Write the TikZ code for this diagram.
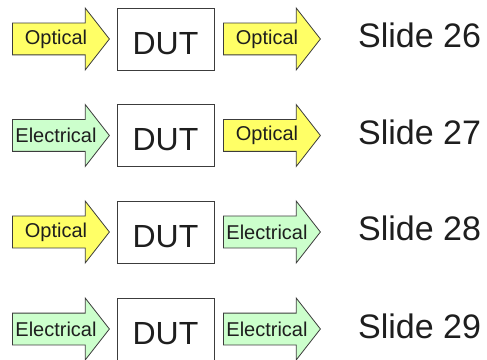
\documentclass[tikz,border=0pt]{standalone}
\usepackage{fontspec}
\setmainfont{Liberation Sans}
\usetikzlibrary{shapes.arrows}

\definecolor{optyellow}{RGB}{255,255,102}
\definecolor{elegreen}{RGB}{204,255,204}
\definecolor{edge}{RGB}{60,60,60}
\definecolor{ink}{RGB}{30,30,30}

\tikzset{
  sigarrow/.style={single arrow, draw=edge, line width=0.8pt, anchor=tail,
    minimum height=97pt, inner sep=0pt, text height=31pt, text depth=0pt,
    single arrow head extend=15pt, single arrow tip angle=104},
  optical/.style={sigarrow, fill=optyellow},
  electrical/.style={sigarrow, fill=elegreen},
  siglabel/.style={inner sep=0pt, text=ink, font=\fontsize{20}{24}\selectfont},
  dutbox/.style={draw=edge, line width=0.8pt, minimum width=97pt, minimum height=62pt,
    inner sep=0pt, text height=31pt, text depth=0pt, text=ink,
    font=\fontsize{32}{38}\selectfont},
  slidelabel/.style={anchor=base west, inner sep=0pt, text=ink,
    font=\fontsize{34}{40}\selectfont}
}

\begin{document}
\begin{tikzpicture}[x=1pt, y=1pt]
    \useasboundingbox (0,0) rectangle (487,359);

    % Slide 26: optical in, optical out
    \node[optical] (in1) at (12,320) {};
    \node[siglabel] (inlab1) at (56,320) {Optical};
    \node[dutbox] (dut1) at (165.5,320) {DUT};
    \node[optical] (out1) at (223,320) {};
    \node[siglabel] (outlab1) at (267,320) {Optical};
    \node[slidelabel] (slide1) at (358,311) {Slide 26};

    % Slide 27: electrical in, optical out
    \node[electrical] (in2) at (12,223.5) {};
    \node[siglabel] (inlab2) at (56,223.5) {Electrical};
    \node[dutbox] (dut2) at (165.5,223.5) {DUT};
    \node[optical] (out2) at (223,223.5) {};
    \node[siglabel] (outlab2) at (267,223.5) {Optical};
    \node[slidelabel] (slide2) at (358,214.5) {Slide 27};

    % Slide 28: optical in, electrical out
    \node[optical] (in3) at (12,127) {};
    \node[siglabel] (inlab3) at (56,127) {Optical};
    \node[dutbox] (dut3) at (165.5,127) {DUT};
    \node[electrical] (out3) at (223,127) {};
    \node[siglabel] (outlab3) at (267,127) {Electrical};
    \node[slidelabel] (slide3) at (358,118) {Slide 28};

    % Slide 29: electrical in, electrical out
    \node[electrical] (in4) at (12,30) {};
    \node[siglabel] (inlab4) at (56,30) {Electrical};
    \node[dutbox] (dut4) at (165.5,30) {DUT};
    \node[electrical] (out4) at (223,30) {};
    \node[siglabel] (outlab4) at (267,30) {Electrical};
    \node[slidelabel] (slide4) at (358,21) {Slide 29};

\end{tikzpicture}
\end{document}
